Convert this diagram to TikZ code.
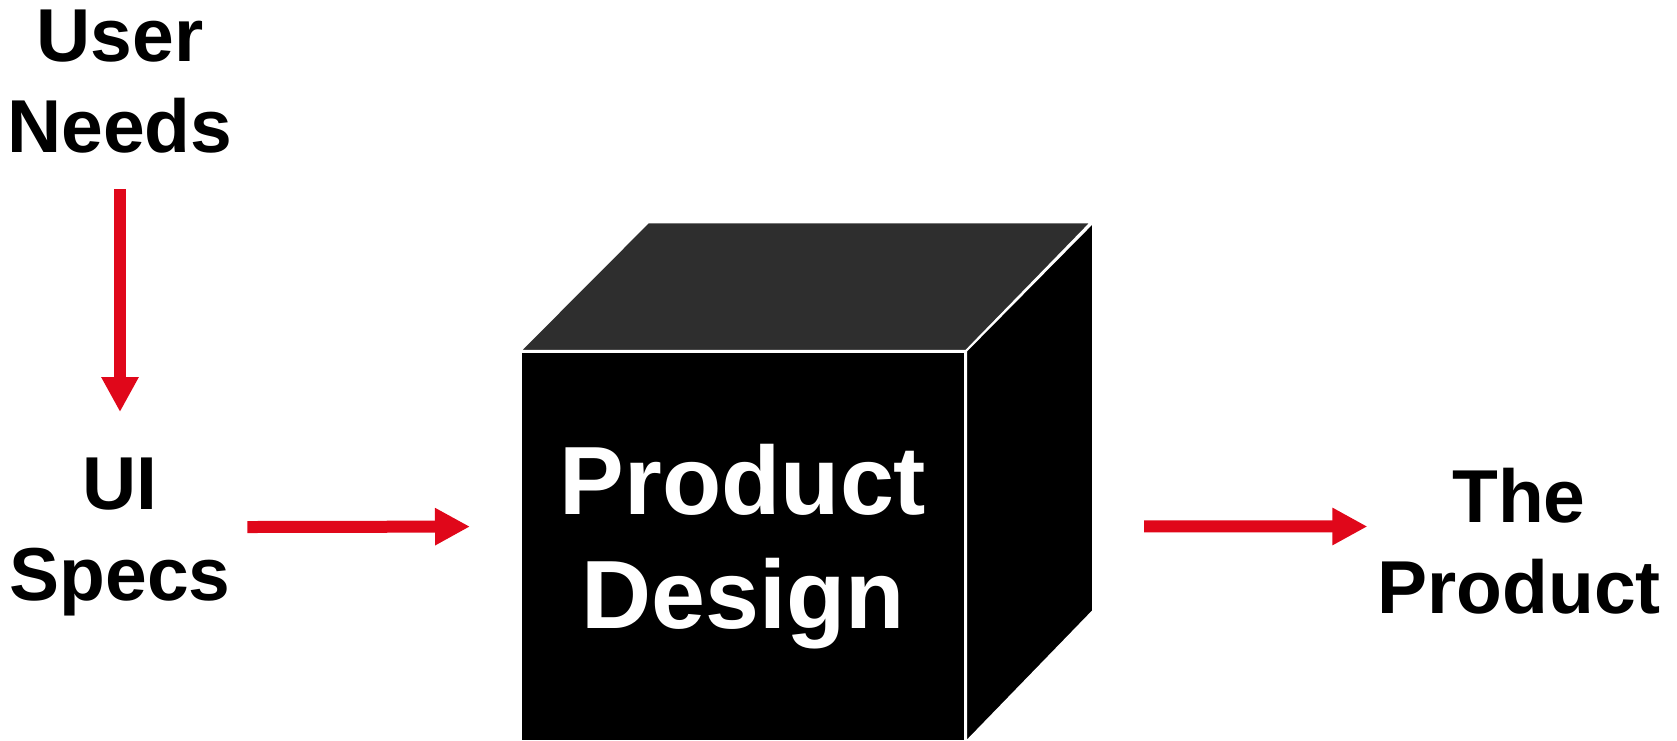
\documentclass[tikz,border=0pt]{standalone}
\usepackage{fontspec}
\setmainfont{Liberation Sans}
\usetikzlibrary{arrows.meta,positioning}
\definecolor{cred}{HTML}{E0071A}
\definecolor{ctop}{HTML}{2E2E2E}

\begin{document}
\begin{tikzpicture}[
  x=0.5bp, y=0.5bp,
  every node/.style={align=center, inner sep=0pt},
  lbl/.style={font=\fontsize{37.5bp}{45.5bp}\selectfont\bfseries},
  face/.style={draw=white, line width=1bp},
  arr/.style={-{Triangle[length=17.5bp, width=17.5bp]}, draw=cred, line width=6bp},
]
\useasboundingbox (0,0) rectangle (1677,741);
% the box
\node[face, fill=black, minimum width=222bp, minimum height=194.5bp,
      text=white, font=\fontsize{48.5bp}{57bp}\selectfont\bfseries]
      (design) at (743,194.5) {Product\\Design};
\filldraw[face, fill=ctop] (design.north west) -- ++(128,128.5) -- ++(443,0)
  -- (design.north east) -- cycle;
\filldraw[face, fill=black] (design.north east) -- ++(127,128.5) -- ++(0,-388.5)
  -- (design.south east) -- cycle;
% labels
\node[lbl] (needs) at (120,659) {User\\Needs};
\node[lbl, below=151.5bp of needs] (specs) {UI\\Specs};
\node[lbl] (product) at (1519,200) {The\\Product};

\draw[arr, shorten <=17.5bp, shorten >=22.5bp] (needs.south) -- (specs.north);
\draw[arr, shorten <=8.25bp, shorten >=25bp]
  ([yshift=4.75bp]specs.east) -- ([yshift=10bp]design.west);
\draw[arr, shorten <=89bp, shorten >=4.75bp]
  ([yshift=10bp]design.east) -- ([yshift=7.25bp]product.west);
\end{tikzpicture}
\end{document}
